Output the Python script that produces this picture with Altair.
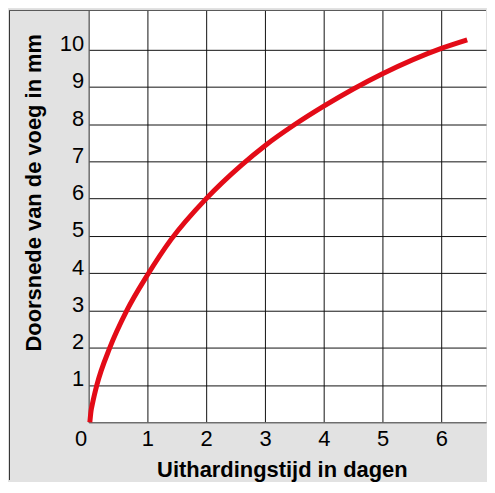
import altair as alt
import pandas as pd

# Curve
days = [0.02, 0.04, 0.065, 0.14, 0.36, 0.65, 1.0, 1.4, 2.0, 2.6, 3.0, 3.5, 4.0, 5.0, 6.0, 6.44]
diameter = [0.0, 0.3, 0.5, 1.0, 2.0, 3.0, 3.95, 4.9, 6.0, 6.9, 7.42, 7.98, 8.48, 9.35, 10.03, 10.26]

x_ticks = [0, 1, 2, 3, 4, 5, 6]
y_ticks = [0, 1, 2, 3, 4, 5, 6, 7, 8, 9, 10]

x_title = "Uithardingstijd in dagen"
y_title = "Doorsnede van de voeg in mm"

df = pd.DataFrame({"x": days, "y": diameter})

W, H = 399, 414
FONT = "Liberation Sans"

x_enc = alt.X(
    "x:Q",
    scale=alt.Scale(domain=[0, 6.76], nice=False, zero=False),
    axis=alt.Axis(
        values=x_ticks,
        title=x_title,
        grid=True,
        gridColor={"condition": {"test": "datum.value == 0", "value": "#666666"}, "value": "#111111"},
        gridWidth=1,
        ticks=False,
        domain=True,
        domainColor="#666666",
        labelFont=FONT,
        labelFontSize=22,
        labelColor="#000000",
        labelPadding=6,
        labelAlign={"condition": {"test": "datum.value == 0", "value": "right"}, "value": "center"},
        labelOffset={"condition": {"test": "datum.value == 0", "value": -2}, "value": 0},
        labelFlush=False,
        titleFont=FONT,
        titleFontSize=22,
        titleFontWeight="bold",
        titleColor="#000000",
        titleX=194,
        titleY=47,
        titleAlign="center",
        titleBaseline="middle",
    ),
)

y_enc = alt.Y(
    "y:Q",
    scale=alt.Scale(domain=[0, 11.06], nice=False),
    axis=alt.Axis(
        values=y_ticks,
        title=y_title,
        grid=True,
        gridColor={"condition": {"test": "datum.value == 0", "value": "#666666"}, "value": "#111111"},
        gridWidth=1,
        ticks=False,
        domain=True,
        domainColor="#666666",
        labelExpr="datum.value == 0 ? '' : datum.label",
        labelFont=FONT,
        labelFontSize=22,
        labelColor="#000000",
        labelPadding=5,
        labelBaseline="alphabetic",
        labelOffset=1,
        labelFlush=False,
        titleFont=FONT,
        titleFontSize=22,
        titleFontWeight="bold",
        titleColor="#000000",
        titleX=-55,
        titleY=183,
        titleAngle=270,
        titleAlign="center",
        titleBaseline="middle",
    ),
)

curve = alt.Chart(df).mark_line(
    color="#e30b17", strokeWidth=5, interpolate="monotone", strokeCap="butt"
).encode(x=x_enc, y=y_enc)

border_df = pd.DataFrame({"k": [0]})
left_border = alt.Chart(border_df).mark_rule(color="#333333", strokeWidth=1).encode(
    x=alt.value(-79.5), y=alt.value(0), y2=alt.value(472)
)
top_border = alt.Chart(border_df).mark_rule(color="#555555", strokeWidth=1).encode(
    x=alt.value(-80), x2=alt.value(W), y=alt.value(0.5)
)

chart = (
    alt.layer(curve, left_border, top_border)
    .properties(width=W, height=H, padding=0, background="#e2e2e2")
    .configure_view(fill="#ffffff", strokeWidth=0)
)

chart.save("out.html", embed_options={"renderer": "svg", "actions": False})
